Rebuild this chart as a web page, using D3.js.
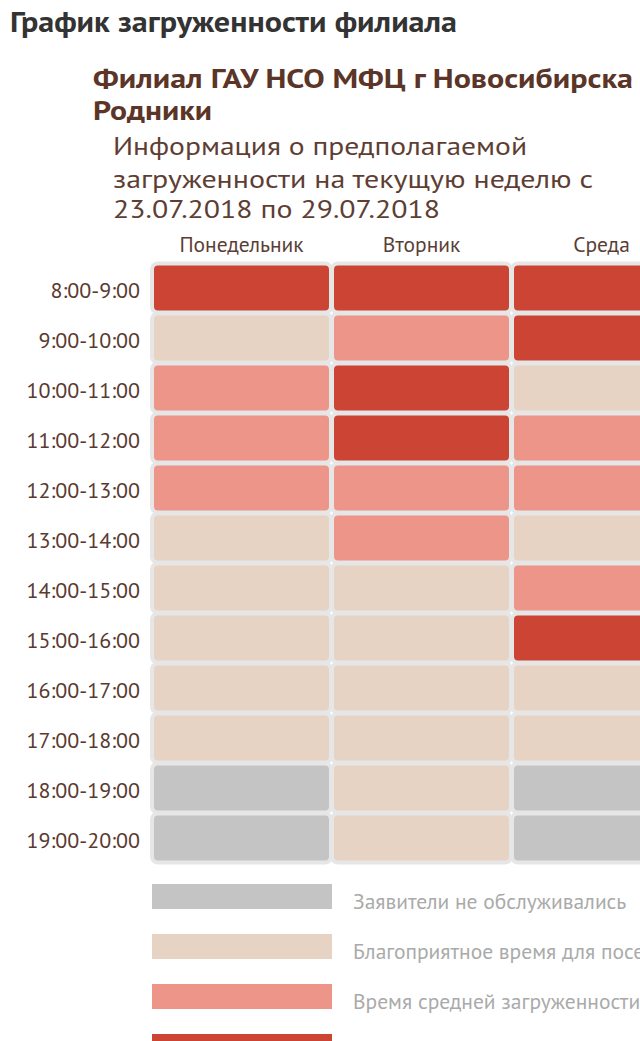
<!DOCTYPE html>
<html>
<head>
<meta charset="utf-8">
<script src="https://cdn.jsdelivr.net/npm/d3@7"></script>
<style>
  body { margin: 0; background: #fff; }
  svg { display: block; font-family: "PT Sans", "Open Sans", sans-serif; }
</style>
</head>
<body>
<div id="chart"></div>
<script>
// Days shown in the picture
const days = ["Понедельник", "Вторник", "Среда"];

// Hour slots (row labels)
const hours = ["8:00-9:00", "9:00-10:00", "10:00-11:00", "11:00-12:00", "12:00-13:00", "13:00-14:00",
  "14:00-15:00", "15:00-16:00", "16:00-17:00", "17:00-18:00", "18:00-19:00", "19:00-20:00"];

// Load level per slot: 0 = not served, 1 = good time, 2 = medium, 3 = high
const monday    = [3, 1, 2, 2, 2, 1, 1, 1, 1, 1, 0, 0];
const tuesday   = [3, 2, 3, 3, 2, 2, 1, 1, 1, 1, 1, 1];
const wednesday = [3, 3, 1, 2, 2, 1, 2, 3, 1, 1, 0, 0];

// Legend
const levels = [0, 1, 2, 3];
const levelLabels = ["Заявители не обслуживались", "Благоприятное время для посещения", "Время средней загруженности", ""];
const levelColors = ["#c4c4c4", "#e6d3c3", "#ec9588", "#cc4534"];

const width = 640, height = 1041;

const cells = [];
[monday, tuesday, wednesday].forEach((vals, i) => {
  vals.forEach((v, j) => cells.push({ day: days[i], hour: hours[j], level: v }));
});

const svg = d3.select("#chart")
  .append("svg")
  .attr("width", width)
  .attr("height", height);

// Titles
svg.append("text")
  .attr("x", 10).attr("y", 32)
  .attr("textLength", 447).attr("lengthAdjust", "spacingAndGlyphs")
  .style("font-size", "28px").style("font-weight", "bold").attr("fill", "#333")
  .text("График загруженности филиала");

const sub = [
  { t: "Филиал ГАУ НСО МФЦ г Новосибирска", x: 93, y: 88, w: 540 },
  { t: "Родники", x: 93, y: 120, w: 119 }
];
svg.selectAll(".sub").data(sub).join("text")
  .attr("x", d => d.x).attr("y", d => d.y)
  .attr("textLength", d => d.w).attr("lengthAdjust", "spacingAndGlyphs")
  .style("font-size", "27px").style("font-weight", "bold").attr("fill", "#5b3528")
  .text(d => d.t);

const info = [
  { t: "Информация о предполагаемой", y: 155, w: 414 },
  { t: "загруженности на текущую неделю с", y: 188, w: 480 },
  { t: "23.07.2018 по 29.07.2018", y: 218, w: 327 }
];
svg.selectAll(".info").data(info).join("text")
  .attr("x", 113).attr("y", d => d.y)
  .attr("textLength", d => d.w).attr("lengthAdjust", "spacingAndGlyphs")
  .style("font-size", "26px").style("font-weight", 300).attr("fill", "#5e3e33")
  .text(d => d.t);

// Scales
const x = d3.scaleBand().domain(days).range([151.5, 151.5 + 180 * days.length]);
const y = d3.scaleBand().domain(hours).range([263, 863]);
const color = d3.scaleOrdinal().domain(levels).range(levelColors);

// Column headers
svg.append("g")
  .selectAll("text")
  .data(days)
  .join("text")
    .attr("x", d => x(d) + x.bandwidth() / 2)
    .attr("y", 252)
    .attr("text-anchor", "middle")
    .style("font-size", "21.5px")
    .attr("fill", "#5a3e35")
    .text(d => d);

// Row labels
svg.append("g")
  .selectAll("text")
  .data(hours)
  .join("text")
    .attr("x", 140)
    .attr("y", d => y(d) + y.bandwidth() / 2 + 10)
    .attr("text-anchor", "end")
    .style("font-size", "22px")
    .attr("fill", "#5a3a30")
    .text(d => d);

// Cells
svg.append("g")
  .selectAll("rect")
  .data(cells)
  .join("rect")
    .attr("x", d => x(d.day) + 0.5)
    .attr("y", d => y(d.hour) + 0.5)
    .attr("width", x.bandwidth() - 1)
    .attr("height", y.bandwidth() - 1)
    .attr("rx", 6)
    .attr("fill", d => color(d.level))
    .attr("stroke", "#e6e6e6")
    .attr("stroke-width", 4);

// Legend
const legend = svg.append("g")
  .selectAll("g")
  .data(levels)
  .join("g")
    .attr("transform", (d, i) => `translate(152,${884 + i * 50})`);

legend.append("rect")
  .attr("width", 180)
  .attr("height", 25)
  .attr("fill", d => color(d));

legend.append("text")
  .attr("x", 201)
  .attr("y", 25)
  .style("font-size", "21.5px")
  .attr("fill", "#aaa")
  .text(d => levelLabels[d]);
</script>
</body>
</html>
